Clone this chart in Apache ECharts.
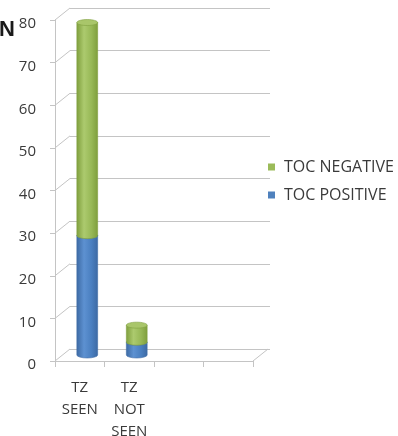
<!DOCTYPE html>
<html>
<head>
<meta charset="utf-8">
<script src="https://cdn.jsdelivr.net/npm/echarts@6/dist/echarts.min.js"></script>
<style>
  html, body { margin: 0; padding: 0; background: #fff; }
  #chart { width: 398px; height: 436px; }
</style>
</head>
<body>
<div id="chart"></div>
<script>
// Categories and stacked values
const categories = ['TZ\nSEEN', 'TZ\nNOT\nSEEN', '', ''];
const tocPositive = [28, 3];
const tocNegative = [50, 4];
const seriesNames = ['TOC NEGATIVE', 'TOC POSITIVE'];

// Value axis scale
const yMin = 0;
const yMax = 80;
const yStep = 10;
const yTicks = [0, 10, 20, 30, 40, 50, 60, 70, 80];

// Depth offset of the back wall (pseudo 3D)
const DEPTH_X = 15;
const DEPTH_Y = -12;

const FONT = '"Open Sans", "Noto Sans", sans-serif';
const TEXT_COLOR = '#3a3a3a';
const LINE_COLOR = '#c4c4c4';

const front = { left: 55, top: 20, width: 198, height: 341, outerBoundsMode: 'none' };
const back = { left: front.left + DEPTH_X, top: front.top + DEPTH_Y, width: front.width + 2, height: front.height, outerBoundsMode: 'none' };
const mid = { left: front.left + DEPTH_X / 2, top: front.top + DEPTH_Y / 2, width: front.width, height: front.height, outerBoundsMode: 'none' };

function valueAxis(idx, shown) {
  return {
    type: 'value', gridIndex: idx, min: yMin, max: yMax, interval: yStep,
    axisLine: { show: shown, lineStyle: { color: LINE_COLOR } },
    axisTick: { show: shown, length: 5, lineStyle: { color: LINE_COLOR } },
    axisLabel: shown ? { show: true, margin: 19, fontSize: 15, color: TEXT_COLOR, fontFamily: FONT, verticalAlign: 'top', lineHeight: 8 } : { show: false },
    splitLine: { show: idx === 1, lineStyle: { color: LINE_COLOR, width: 1 } }
  };
}
function catAxis(idx, shown) {
  return {
    type: 'category', gridIndex: idx, data: categories, boundaryGap: true,
    axisLine: { show: shown, lineStyle: { color: LINE_COLOR } },
    axisTick: { show: shown, interval: 0, length: 6, lineStyle: { color: LINE_COLOR } },
    axisLabel: shown ? { show: true, interval: 0, margin: 16, fontSize: 15, lineHeight: 22, color: TEXT_COLOR, fontFamily: FONT, verticalAlign: 'top' } : { show: false },
    splitLine: { show: false }
  };
}

// Cylinder segment drawn from [categoryIndex, base, top]
function cylinder(colors) {
  return function (params, api) {
    const c = api.value(0);
    const x = api.coord([c, api.value(1)])[0];
    const yb = api.coord([c, api.value(1)])[1];
    const yt = api.coord([c, api.value(2)])[1];
    const w = api.size([1, 0])[0] * 0.42;
    const rx = w / 2, ry = 3;
    const grad = new echarts.graphic.LinearGradient(0, 0, 1, 0, [
      { offset: 0, color: colors.dark },
      { offset: 0.35, color: colors.light },
      { offset: 0.7, color: colors.base },
      { offset: 1, color: colors.dark }
    ]);
    const body = 'M' + (x - rx) + ' ' + yt + ' L' + (x - rx) + ' ' + yb +
      ' A' + rx + ' ' + ry + ' 0 0 0 ' + (x + rx) + ' ' + yb +
      ' L' + (x + rx) + ' ' + yt + ' Z';
    return {
      type: 'group',
      children: [
        { type: 'path', shape: { pathData: body }, style: { fill: grad, stroke: colors.edge, lineWidth: 0.6 } },
        { type: 'ellipse', shape: { cx: x, cy: yt, rx: rx, ry: ry }, style: { fill: colors.cap, stroke: colors.edge, lineWidth: 0.6 } }
      ]
    };
  };
}

const greenColors = { dark: '#7e9e3c', light: '#acca6e', base: '#97b856', cap: '#a9c66a', edge: '#809f40' };
const blueColors = { dark: '#3c69a3', light: '#5d91d1', base: '#4a7fc0', cap: '#6b9bd6', edge: '#3f6ca6' };

const positiveData = tocPositive.map((v, i) => [i, 0, v]);
const negativeData = tocNegative.map((v, i) => [i, tocPositive[i], tocPositive[i] + v]);

const chart = echarts.init(document.getElementById('chart'), null, { renderer: 'canvas' });
chart.setOption({
  animation: false,
  backgroundColor: '#ffffff',
  textStyle: { fontFamily: FONT },
  graphic: [
    { type: 'text', left: -1, top: 19, style: { text: 'N', font: 'bold 22px "Liberation Sans", Arial, sans-serif', fill: '#1a1a1a' } }
  ],
  legend: {
    data: seriesNames,
    orient: 'vertical',
    left: 268, top: 159, padding: 0,
    icon: 'rect', itemWidth: 7, itemHeight: 7, itemGap: 12,
    textStyle: { fontSize: 16, color: TEXT_COLOR, fontFamily: FONT, lineHeight: 16, padding: [0, 0, 0, 4] }
  },
  grid: [
    Object.assign({}, front),
    Object.assign({}, back),
    Object.assign({}, mid)
  ],
  xAxis: [catAxis(0, true), catAxis(1, false), catAxis(2, false)],
  yAxis: [valueAxis(0, true), valueAxis(1, false), valueAxis(2, false)],
  series: [
    {
      // side-wall and floor connectors between front and back planes
      type: 'custom', xAxisIndex: 0, yAxisIndex: 0, silent: true, legendHoverLink: false,
      data: yTicks.map(v => [0, v]),
      renderItem: function (params, api) {
        const cs = params.coordSys;
        const y = api.coord([0, api.value(1)])[1];
        const lineStyle = { stroke: LINE_COLOR, lineWidth: 1 };
        const kids = [{ type: 'line', shape: { x1: cs.x, y1: y, x2: cs.x + DEPTH_X, y2: y + DEPTH_Y }, style: lineStyle }];
        if (api.value(1) === yMin) {
          kids.push({ type: 'line', shape: { x1: cs.x + cs.width, y1: y, x2: cs.x + cs.width + DEPTH_X, y2: y + DEPTH_Y }, style: lineStyle });
        }
        return { type: 'group', children: kids };
      },
      z: 1
    },
    {
      name: 'TOC POSITIVE', type: 'custom', xAxisIndex: 2, yAxisIndex: 2,
      itemStyle: { color: '#4F81BD' },
      data: positiveData, renderItem: cylinder(blueColors), z: 3
    },
    {
      name: 'TOC NEGATIVE', type: 'custom', xAxisIndex: 2, yAxisIndex: 2,
      itemStyle: { color: '#9BBB59' },
      data: negativeData, renderItem: cylinder(greenColors), z: 4
    }
  ]
});
</script>
</body>
</html>
